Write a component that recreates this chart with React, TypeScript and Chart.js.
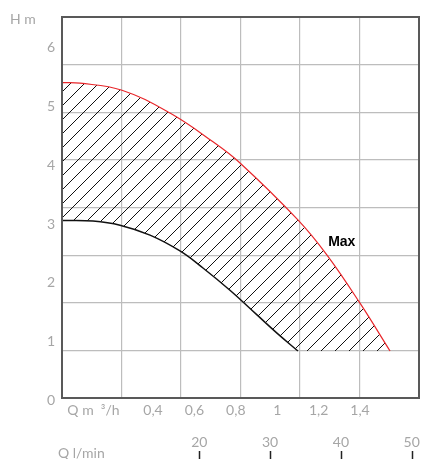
import React, { useEffect, useRef } from "react";
import { Chart, registerables } from "chart.js";

Chart.register(...registerables);

// Flow in l/min (lower axis), head in metres
const MAX_Q = [0.61, 3.15, 9.08, 15.86, 21.94, 25.75, 33.93, 38.04, 42.7, 46.94];
const MAX_H = [5.41, 5.4, 5.28, 4.89, 4.4, 4.04, 3.07, 2.47, 1.65, 0.835];
const MIN_Q = [0.61, 4.99, 8.8, 13.04, 17.27, 20.52, 24.33, 28.15, 30.97, 33.93];
const MIN_H = [3.06, 3.05, 2.98, 2.81, 2.54, 2.25, 1.87, 1.45, 1.14, 0.835];

const H_TICKS = [0, 1, 2, 3, 4, 5, 6];
const QM3_TICKS = [0.4, 0.6, 0.8, 1, 1.2, 1.4];
const QM3_LABELS = ["0,4", "0,6", "0,8", "1", "1,2", "1,4"];
const QL_TICKS = [20, 30, 40, 50];

const H_TITLE = "H m";
const QM3_TITLE = "Q m  \u00B3/h";
const QL_TITLE = "Q l/min";
const MAX_TEXT = "Max";

const GRAY = "#a6a6a6";
const FONT = "Lato, 'Open Sans', sans-serif";

function makeHatch(): CanvasPattern | string {
  const c = document.createElement("canvas");
  c.width = 14;
  c.height = 14;
  const g = c.getContext("2d");
  if (!g) return "rgba(0,0,0,0.2)";
  g.strokeStyle = "#111";
  g.lineWidth = 1;
  g.beginPath();
  g.moveTo(0, 14);
  g.lineTo(14, 0);
  g.moveTo(-1, 1);
  g.lineTo(1, -1);
  g.moveTo(13, 15);
  g.lineTo(15, 13);
  g.stroke();
  const p = g.createPattern(c, "repeat");
  return p || "rgba(0,0,0,0.2)";
}

export default function App() {
  const ref = useRef<HTMLCanvasElement>(null);

  useEffect(() => {
    if (!ref.current) return;
    const hatch = makeHatch();
    const maxPts = MAX_Q.map((q, i) => ({ x: q, y: MAX_H[i] }));
    const minPts = MIN_Q.map((q, i) => ({ x: q, y: MIN_H[i] }));
    const joinIdx = MAX_Q.indexOf(MIN_Q[MIN_Q.length - 1]);
    const tailPts = maxPts.slice(joinIdx);
    const floorH = MIN_H[MIN_H.length - 1];

    const overlay = {
      id: "overlay",
      afterDatasetsDraw(chart: any) {
        const { ctx, chartArea } = chart;
        const xs = chart.scales.xl;
        const ys = chart.scales.y;
        ctx.save();
        // frame
        ctx.strokeStyle = "#595959";
        ctx.lineWidth = 2;
        ctx.strokeRect(chartArea.left, chartArea.top, chartArea.right - chartArea.left, chartArea.bottom - chartArea.top);
        // Max label
        ctx.fillStyle = "#000";
        ctx.font = "bold 14px 'Liberation Sans', Arial, sans-serif";
        ctx.textAlign = "left";
        ctx.textBaseline = "middle";
        ctx.fillText(MAX_TEXT, xs.getPixelForValue(38.2), ys.getPixelForValue(2.69));
        // titles
        ctx.fillStyle = GRAY;
        ctx.font = "14px " + FONT;
        ctx.textBaseline = "alphabetic";
        ctx.fillText(H_TITLE, 10, 24);
        ctx.fillText(QL_TITLE, 58, 458);
        // l/min tick marks
        ctx.strokeStyle = "#222";
        ctx.lineWidth = 1.5;
        QL_TICKS.forEach((v) => {
          const px = Math.round(xs.getPixelForValue(v)) + 0.5;
          ctx.beginPath();
          ctx.moveTo(px, 451);
          ctx.lineTo(px, 460);
          ctx.stroke();
        });
        ctx.restore();
      },
    };

    const chart = new Chart(ref.current, {
      type: "line",
      data: {
        datasets: [
          {
            label: "Max",
            data: maxPts,
            borderColor: "#e8262a",
            borderWidth: 1.2,
            backgroundColor: hatch as any,
            fill: { target: 1 },
            pointRadius: 0,
            tension: 0.4,
            xAxisID: "xl",
            yAxisID: "y",
          },
          {
            label: "Min",
            data: minPts,
            borderColor: "#111",
            borderWidth: 1.5,
            fill: false,
            pointRadius: 0,
            tension: 0.4,
            xAxisID: "xl",
            yAxisID: "y",
          },
          {
            label: "tail",
            data: tailPts,
            borderWidth: 0,
            borderColor: "transparent",
            backgroundColor: hatch as any,
            fill: { value: floorH },
            pointRadius: 0,
            tension: 0.4,
            xAxisID: "xl",
            yAxisID: "y",
          },
        ],
      },
      options: {
        animation: false,
        responsive: true,
        maintainAspectRatio: false,
        layout: { padding: { left: 0, top: 17, right: 28, bottom: 0 } },
        plugins: { legend: { display: false }, tooltip: { enabled: false } },
        scales: {
          xg: {
            type: "linear",
            position: "bottom",
            weight: 0,
            min: 0,
            max: 6,
            afterBuildTicks: (s: any) => {
              s.ticks = [0, 1, 2, 3, 4, 5, 6].map((v) => ({ value: v }));
            },
            afterFit: (s: any) => {
              s.height = 0;
            },
            ticks: { display: false },
            grid: { color: "#bdbdbd", lineWidth: 1.2, drawTicks: false },
            border: { display: false },
          },
          xq: {
            type: "linear",
            position: "bottom",
            weight: 1,
            min: -0.0396,
            max: 1.685,
            afterBuildTicks: (s: any) => {
              s.ticks = [0.1126, ...QM3_TICKS].map((v) => ({ value: v }));
            },
            afterFit: (s: any) => {
              s.height = 22;
            },
            ticks: {
              autoSkip: false,
              maxRotation: 0,
              padding: 4,
              color: GRAY,
              font: { family: FONT, size: 14 },
              callback: (v: any) => {
                const i = QM3_TICKS.indexOf(Number(v));
                return i >= 0 ? QM3_LABELS[i] : QM3_TITLE;
              },
            },
            grid: { display: false, drawTicks: false },
            border: { display: false },
          },
          xl: {
            type: "linear",
            position: "bottom",
            weight: 2,
            min: 0.61,
            max: 51.03,
            afterBuildTicks: (s: any) => {
              s.ticks = QL_TICKS.map((v) => ({ value: v }));
            },
            afterFit: (s: any) => {
              s.height = 39;
            },
            ticks: {
              autoSkip: false,
              maxRotation: 0,
              padding: 14,
              color: GRAY,
              font: { family: FONT, size: 14 },
            },
            grid: { display: false, drawTicks: false },
            border: { display: false },
          },
          yg: {
            type: "linear",
            position: "left",
            weight: 0,
            min: 0,
            max: 8,
            afterBuildTicks: (s: any) => {
              s.ticks = [0, 1, 2, 3, 4, 5, 6, 7, 8].map((v) => ({ value: v }));
            },
            afterFit: (s: any) => {
              s.width = 0;
            },
            ticks: { display: false },
            grid: { color: "#bdbdbd", lineWidth: 1.2, drawTicks: false },
            border: { display: false },
          },
          y: {
            type: "linear",
            position: "left",
            weight: 1,
            min: 0.034,
            max: 6.528,
            afterBuildTicks: (s: any) => {
              s.ticks = H_TICKS.map((v) => ({ value: v }));
            },
            afterFit: (s: any) => {
              s.width = 62;
            },
            ticks: {
              padding: 7,
              color: GRAY,
              font: { family: FONT, size: 14 },
            },
            grid: { display: false, drawTicks: false },
            border: { display: false },
          },
        },
      },
      plugins: [overlay],
    });
    return () => chart.destroy();
  }, []);

  return (
    <div style={{ position: "fixed", left: 0, top: 0, width: 447, height: 459, background: "#fff" }}>
      <canvas ref={ref} />
    </div>
  );
}
